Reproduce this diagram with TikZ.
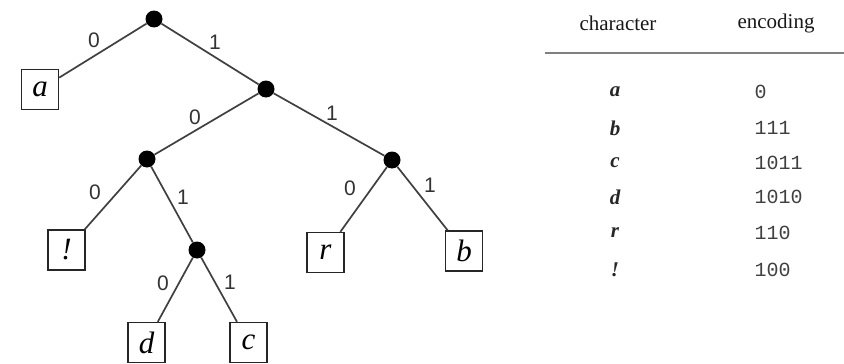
\documentclass[tikz,border=0pt]{standalone}
\usepackage{fontspec}
\setmainfont{Liberation Serif}
\newfontfamily\lsans{Liberation Sans}
\newfontfamily\lmono{Liberation Mono}
\begin{document}
\begin{tikzpicture}[x=1pt,y=-1pt,
  dot/.style={circle,fill=black,draw=none,minimum size=17pt,inner sep=0pt},
  leaf/.style={draw=black!85,line width=1.4pt,minimum width=37pt,minimum height=40pt,inner sep=0pt,
    font=\fontsize{31}{34}\selectfont\itshape},
  edge/.style={draw=black!75,line width=1.7pt},
  lab/.style={font=\lsans\fontsize{21}{24}\selectfont,text=black!80},
  head/.style={font=\fontsize{21}{24}\selectfont,text=black!90},
  chr/.style={font=\fontsize{21}{24}\selectfont\itshape\bfseries,text=black!85},
  enc/.style={font=\lmono\fontsize{20}{24}\selectfont,text=black!75,anchor=west}]
\useasboundingbox[fill=white] (0,0) rectangle (844,364);
% tree nodes
\node[dot] (r0) at (154,19) {};
\node[dot] (n2) at (266,89) {};
\node[dot] (n3) at (147,159) {};
\node[dot] (n4) at (392,160) {};
\node[dot] (n5) at (197,250) {};
\node[leaf] (la) at (40,89.5) {a};
\node[leaf] (lx) at (66.5,250) {!};
\node[leaf] (ld) at (146.5,342.5) {d};
\node[leaf] (lc) at (248.5,342.5) {c};
\node[leaf] (lr) at (325.5,252.5) {r};
\node[leaf] (lb) at (464,251) {b};
% edges
\draw[edge] (r0) -- (la);
\draw[edge] (r0) -- (n2);
\draw[edge] (n2) -- (n3);
\draw[edge] (n2) -- (n4);
\draw[edge] (n3) -- (lx);
\draw[edge] (n3) -- (n5);
\draw[edge] (n5) -- (ld);
\draw[edge] (n5) -- (lc);
\draw[edge] (n4) -- (lr);
\draw[edge] (n4) -- (lb);
% edge labels
\node[lab] (e1) at (94,40) {0};
\node[lab] (e2) at (215,42) {1};
\node[lab] (e3) at (195,117) {0};
\node[lab] (e4) at (332,113) {1};
\node[lab] (e5) at (95,192) {0};
\node[lab] (e6) at (183,197) {1};
\node[lab] (e7) at (163,283) {0};
\node[lab] (e8) at (230,282) {1};
\node[lab] (e9) at (350,188) {0};
\node[lab] (e10) at (430,185) {1};
% table
\node[head] (hc) at (618,23) {character};
\node[head] (he) at (776,23) {encoding};
\coordinate (rl) at (545,53);
\coordinate (rr) at (844,53);
\draw[draw=black!50,line width=1.8pt] (rl) -- (rr);
\node[chr] (ca) at (615,92) {a};
\node[chr] (cb) at (615,128) {b};
\node[chr] (cc) at (615,163) {c};
\node[chr] (cd) at (615,197) {d};
\node[chr] (cr) at (615,233) {r};
\node[chr] (cx) at (615,270) {!};
\node[enc] (ea) at (751,92) {0};
\node[enc] (eb) at (751,128) {111};
\node[enc] (ec) at (751,163) {1011};
\node[enc] (ed) at (751,197) {1010};
\node[enc] (er) at (751,233) {110};
\node[enc] (ex) at (751,270) {100};
\end{tikzpicture}
\end{document}
